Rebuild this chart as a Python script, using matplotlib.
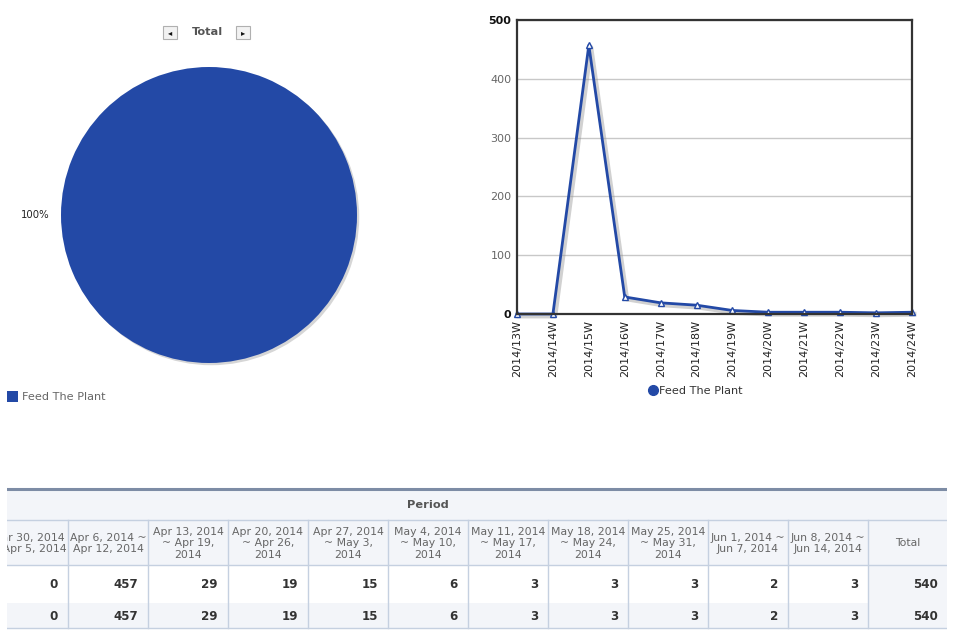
import matplotlib
matplotlib.use("Agg")
import matplotlib.pyplot as plt
import matplotlib.patheffects as pe
from matplotlib.patches import Rectangle

plt.rcParams['font.family'] = ['DejaVu Sans']

# ---------------- data ----------------
weeks = ["2014/13W", "2014/14W", "2014/15W", "2014/16W", "2014/17W", "2014/18W",
         "2014/19W", "2014/20W", "2014/21W", "2014/22W", "2014/23W", "2014/24W"]
values = [0, 0, 457, 29, 19, 15, 6, 3, 3, 3, 2, 3]
series_name = "Feed The Plant"
pie_values = [540]
pie_labels = ["100%"]
period_headers = ["Mar 23, 2014\n~ Mar 29, 2014", "Mar 30, 2014\n~ Apr 5, 2014",
                  "Apr 6, 2014 ~\nApr 12, 2014", "Apr 13, 2014\n~ Apr 19,\n2014",
                  "Apr 20, 2014\n~ Apr 26,\n2014", "Apr 27, 2014\n~ May 3,\n2014",
                  "May 4, 2014\n~ May 10,\n2014", "May 11, 2014\n~ May 17,\n2014",
                  "May 18, 2014\n~ May 24,\n2014", "May 25, 2014\n~ May 31,\n2014",
                  "Jun 1, 2014 ~\nJun 7, 2014", "Jun 8, 2014 ~\nJun 14, 2014"]
total_label = "Total"
y_ticks = [0, 100, 200, 300, 400, 500]

BLUE = '#2349a6'
W, H = 956, 634

fig = plt.figure(figsize=(W / 100, H / 100), dpi=100)


def px_axes(x0, y0, x1, y1):
    return fig.add_axes([x0 / W, 1 - y1 / H, (x1 - x0) / W, (y1 - y0) / H])


# ---------------- pie ----------------
pax = px_axes(61, 67, 357, 363)
wedges, texts = pax.pie(pie_values, labels=pie_labels, colors=[BLUE], startangle=0,
                        labeldistance=1.08, textprops=dict(fontsize=7.3, color='#222222'),
                        wedgeprops=dict(linewidth=0))
for w in wedges:
    w.set_path_effects([pe.SimplePatchShadow(offset=(1.6, -1.6), shadow_rgbFace='#bbbbbb', alpha=0.6),
                        pe.Normal()])
pax.set_xlim(-1, 1)
pax.set_ylim(-1, 1)
pax.set_aspect('equal')

fig.text(208 / W, 1 - 32 / H, "Total", ha='center', va='center', fontsize=8.2,
         fontweight='bold', color='#555555')
for bx, glyph in [(163, '◂'), (236, '▸')]:
    fig.patches.append(Rectangle((bx / W, 1 - 39 / H), 14 / W, 13 / H, transform=fig.transFigure,
                                 facecolor='#f2f2f2', edgecolor='#b0b0b0', linewidth=0.8))
    fig.text((bx + 7) / W, 1 - 32.5 / H, glyph, ha='center', va='center', fontsize=6, color='#111111')

# pie legend
fig.patches.append(Rectangle((7 / W, 1 - 402 / H), 11 / W, 11 / H, transform=fig.transFigure,
                             facecolor=BLUE, edgecolor='none'))
fig.text(22 / W, 1 - 397 / H, series_name, ha='left', va='center', fontsize=8.1, color='#666666')

# ---------------- line chart ----------------
lax = px_axes(517, 20, 912, 314)
x = list(range(len(weeks)))
lax.plot(x, values, color='#999999', alpha=0.45, linewidth=3.5, clip_on=False, zorder=4,
         transform=lax.transData + matplotlib.transforms.ScaledTranslation(2 / 100, -2 / 100,
                                                                            fig.dpi_scale_trans))
lax.plot(x, values, color=BLUE, linewidth=2, marker='^', markersize=4.5,
         markerfacecolor='white', markeredgecolor=BLUE, markeredgewidth=1, clip_on=False, zorder=5)
lax.set_xlim(0, len(weeks) - 1)
lax.set_ylim(0, 500)
lax.set_yticks(y_ticks)
lax.set_xticks(x)
lax.set_xticklabels(weeks, rotation=90, fontsize=8, color='#222222')
lax.tick_params(axis='both', length=0, pad=4)
lax.tick_params(axis='y', labelsize=8, labelcolor='#666666')
for t, v in zip(lax.get_yticklabels(), y_ticks):
    if v in (0, 500):
        t.set_fontweight('bold')
        t.set_color('#111111')
lax.grid(axis='y', color='#c8c8c8', linewidth=1)
lax.set_axisbelow(True)
for s in lax.spines.values():
    s.set_color('#333333')
    s.set_linewidth(1.6)
    s.set_zorder(6)

fig.lines.append(plt.Line2D([653 / W], [1 - 390 / H], transform=fig.transFigure, marker='o',
                            markersize=7, color=BLUE, linestyle='none'))
fig.text(659 / W, 1 - 390.5 / H, series_name, ha='left', va='center', fontsize=8.1, color='#333333')

# ---------------- table ----------------
tax = px_axes(7, 486, 947, 634)
tax.set_xlim(7, 947)
tax.set_ylim(634, 486)
tax.axis('off')

col_w = 80
first_left = -92
ncols = len(period_headers) + 1
right = first_left + ncols * col_w
hdr_bg = '#f3f5f9'
line_c = '#c5d0e0'

y_top, y_p, y_h, y_r1, y_r2 = 489, 520, 565, 603, 628

tax.add_patch(Rectangle((first_left, y_top), right - first_left, y_h - y_top, facecolor=hdr_bg,
                        edgecolor='none', clip_on=True))
tax.add_patch(Rectangle((first_left, y_r1), right - first_left, y_r2 - y_r1, facecolor=hdr_bg,
                        edgecolor='none', clip_on=True))
tax.add_patch(Rectangle((right - col_w, y_h), col_w, y_r1 - y_h, facecolor=hdr_bg,
                        edgecolor='none', clip_on=True))
tax.plot([first_left, right], [y_top, y_top], color='#7d8ca5', linewidth=2.2, clip_on=True,
         solid_capstyle='butt')
for yy in (y_p, y_h, y_r2):
    tax.plot([first_left, right], [yy, yy], color=line_c, linewidth=1, clip_on=True)
for i in range(1, ncols):
    xx = first_left + i * col_w
    tax.plot([xx, xx], [y_p, y_r2], color=line_c, linewidth=1, clip_on=True)

tax.text((first_left + right) / 2, (y_top + y_p) / 2 + 1, "Period", ha='center', va='center',
         fontsize=8.2, fontweight='bold', color='#555555', clip_on=True)

headers = period_headers + [total_label]
row_vals = values + [sum(values)]
for i, (hdr, v) in enumerate(zip(headers, row_vals)):
    cl = first_left + i * col_w
    tax.text(cl + col_w / 2, (y_p + y_h) / 2 + 1, hdr, ha='center', va='center', fontsize=7.8,
             color='#666666', linespacing=1.15, clip_on=True)
    for yc in ((y_h + y_r1) / 2 + 1, (y_r1 + y_r2) / 2 + 1):
        tax.text(cl + col_w - 10, yc, str(v), ha='right', va='center', fontsize=8.6,
                 fontweight='bold', color='#333333', clip_on=True)

fig.savefig("out.png", dpi=100)
